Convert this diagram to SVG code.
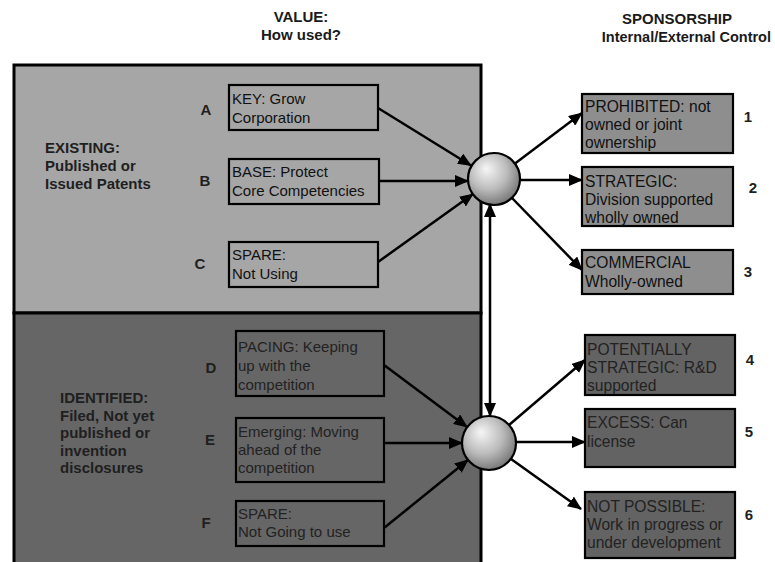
<svg xmlns="http://www.w3.org/2000/svg" width="775" height="562" viewBox="0 0 775 562">
  <style>
    text { font-family: "Liberation Sans", Arial, sans-serif; }
    .hdr { font-size: 15px; font-weight: bold; fill: #1a1a1a; text-anchor: middle; }
    .hdr-end { font-size: 14.5px; font-weight: bold; fill: #1a1a1a; text-anchor: end; }
    .cat { font-size: 15px; font-weight: bold; fill: #1f1f1f; }
    .lbl { font-size: 15px; font-weight: bold; fill: #1f1f1f; text-anchor: middle; }
    .btxt { font-size: 15px; fill: #111; }
    .btxt-dark { font-size: 15px; fill: #222; }
    .rtxt { font-size: 15.6px; fill: #111; }
    .rtxt-dark { font-size: 15.6px; fill: #222; }
    .panel-top { fill: #a6a6a6; stroke: #000; stroke-width: 3; }
    .panel-bot { fill: #666666; stroke: #000; stroke-width: 3; }
    .box-top { fill: #a6a6a6; stroke: #000; stroke-width: 2.2; }
    .box-bot { fill: #666666; stroke: #000; stroke-width: 2.2; }
    .rbox-top { fill: #8e8e8e; stroke: #000; stroke-width: 2.2; }
    .rbox-bot { fill: #636363; stroke: #000; stroke-width: 2.2; }
    .hub { fill: url(#hubShade); stroke: #000; stroke-width: 2.2; }
    .conn { stroke: #000; stroke-width: 2.5; fill: none; marker-end: url(#head); }
  </style>
  <defs>
    <radialGradient id="hubShade" cx="0.42" cy="0.38" r="0.65" fx="0.35" fy="0.3">
      <stop offset="0" stop-color="#f6f6f6"/>
      <stop offset="0.55" stop-color="#bcbcbc"/>
      <stop offset="1" stop-color="#747474"/>
    </radialGradient>
    <marker id="head" viewBox="0 0 14 12" refX="13" refY="6" markerWidth="14" markerHeight="12" markerUnits="userSpaceOnUse" orient="auto-start-reverse">
      <path d="M0,0 L14,6 L0,12 z" fill="#000"/>
    </marker>
  </defs>

  <rect width="775" height="562" fill="#fff"/>

  <!-- column headings -->
  <g id="heading-value">
    <text class="hdr" x="301" y="22">VALUE:</text>
    <text class="hdr" x="301" y="40">How used?</text>
  </g>
  <g id="heading-sponsorship">
    <text class="hdr" x="677" y="24">SPONSORSHIP</text>
    <text class="hdr-end" x="771" y="42">Internal/External Control</text>
  </g>

  <!-- category panels -->
  <g id="panel-existing">
    <rect class="panel-top" x="14" y="65" width="467" height="248"/>
    <text class="cat" x="45" y="153">EXISTING:</text>
    <text class="cat" x="45" y="171">Published or</text>
    <text class="cat" x="45" y="189">Issued Patents</text>
  </g>
  <g id="panel-identified">
    <rect class="panel-bot" x="14" y="313" width="467" height="262"/>
    <text class="cat" x="60" y="403">IDENTIFIED:</text>
    <text class="cat" x="60" y="420.5">Filed, Not yet</text>
    <text class="cat" x="60" y="438">published or</text>
    <text class="cat" x="60" y="455.5">invention</text>
    <text class="cat" x="60" y="473">disclosures</text>
  </g>

  <!-- value nodes -->
  <g id="node-a">
    <text class="lbl" x="206" y="115">A</text>
    <rect class="box-top" x="229" y="85" width="149" height="45"/>
    <text class="btxt" x="232" y="104">KEY: Grow</text>
    <text class="btxt" x="232" y="123">Corporation</text>
  </g>
  <g id="node-b">
    <text class="lbl" x="205" y="186">B</text>
    <rect class="box-top" x="229" y="159" width="150" height="45"/>
    <text class="btxt" x="232" y="177">BASE: Protect</text>
    <text class="btxt" x="232" y="196">Core Competencies</text>
  </g>
  <g id="node-c">
    <text class="lbl" x="200" y="269">C</text>
    <rect class="box-top" x="229" y="242" width="149" height="45"/>
    <text class="btxt" x="232" y="260">SPARE:</text>
    <text class="btxt" x="232" y="279">Not Using</text>
  </g>
  <g id="node-d">
    <text class="lbl" x="211" y="373">D</text>
    <rect class="box-bot" x="236" y="331" width="148" height="65"/>
    <text class="btxt-dark" x="238" y="352">PACING: Keeping</text>
    <text class="btxt-dark" x="238" y="371">up with the</text>
    <text class="btxt-dark" x="238" y="390">competition</text>
  </g>
  <g id="node-e">
    <text class="lbl" x="210" y="445">E</text>
    <rect class="box-bot" x="236" y="418" width="148" height="64"/>
    <text class="btxt-dark" x="238" y="437">Emerging: Moving</text>
    <text class="btxt-dark" x="238" y="455">ahead of the</text>
    <text class="btxt-dark" x="238" y="473">competition</text>
  </g>
  <g id="node-f">
    <text class="lbl" x="206" y="528">F</text>
    <rect class="box-bot" x="236" y="501" width="148" height="45"/>
    <text class="btxt-dark" x="238" y="519">SPARE:</text>
    <text class="btxt-dark" x="238" y="537">Not Going to use</text>
  </g>

  <!-- sponsorship nodes -->
  <g id="node-1">
    <rect class="rbox-top" x="582" y="94" width="151" height="59"/>
    <text class="rtxt" x="585" y="112">PROHIBITED: not</text>
    <text class="rtxt" x="585" y="130">owned or joint</text>
    <text class="rtxt" x="585" y="148">ownership</text>
    <text class="lbl" x="748" y="122">1</text>
  </g>
  <g id="node-2">
    <rect class="rbox-top" x="582" y="167" width="151" height="59"/>
    <text class="rtxt" x="585" y="187">STRATEGIC:</text>
    <text class="rtxt" x="585" y="205">Division supported</text>
    <text class="rtxt" x="585" y="223">wholly owned</text>
    <text class="lbl" x="753" y="193">2</text>
  </g>
  <g id="node-3">
    <rect class="rbox-top" x="582" y="250" width="151" height="44"/>
    <text class="rtxt" x="585" y="268">COMMERCIAL</text>
    <text class="rtxt" x="585" y="287">Wholly-owned</text>
    <text class="lbl" x="748" y="277">3</text>
  </g>
  <g id="node-4">
    <rect class="rbox-bot" x="585" y="335" width="150" height="60"/>
    <text class="rtxt-dark" x="587" y="355">POTENTIALLY</text>
    <text class="rtxt-dark" x="587" y="373">STRATEGIC: R&amp;D</text>
    <text class="rtxt-dark" x="587" y="391">supported</text>
    <text class="lbl" x="750" y="365">4</text>
  </g>
  <g id="node-5">
    <rect class="rbox-bot" x="585" y="409" width="150" height="58"/>
    <text class="rtxt-dark" x="587" y="428">EXCESS: Can</text>
    <text class="rtxt-dark" x="587" y="447">license</text>
    <text class="lbl" x="749" y="437">5</text>
  </g>
  <g id="node-6">
    <rect class="rbox-bot" x="585" y="492" width="150" height="66"/>
    <text class="rtxt-dark" x="587" y="512">NOT POSSIBLE:</text>
    <text class="rtxt-dark" x="587" y="530">Work in progress or</text>
    <text class="rtxt-dark" x="587" y="548">under development</text>
    <text class="lbl" x="749" y="520">6</text>
  </g>

  <!-- connectors -->
  <g id="connectors">
    <line class="conn" x1="378" y1="108" x2="471" y2="165.5"/>
    <line class="conn" x1="379" y1="181" x2="468" y2="181"/>
    <line class="conn" x1="378" y1="262" x2="473" y2="194"/>
    <line class="conn" x1="515" y1="163.5" x2="582" y2="113"/>
    <line class="conn" x1="520" y1="180" x2="582" y2="180"/>
    <line class="conn" x1="512" y1="198" x2="582" y2="270"/>
    <line class="conn" x1="384" y1="365" x2="467" y2="427"/>
    <line class="conn" x1="384" y1="443" x2="462" y2="443"/>
    <line class="conn" x1="384" y1="528" x2="468" y2="460"/>
    <line class="conn" x1="509" y1="425" x2="585" y2="360"/>
    <line class="conn" x1="516" y1="442" x2="585" y2="442"/>
    <line class="conn" x1="511" y1="459" x2="581" y2="509"/>
    <line class="conn" x1="490" y1="204" x2="490" y2="416" marker-start="url(#head)"/>
  </g>

  <!-- hubs -->
  <g id="hub-existing">
    <circle class="hub" cx="494" cy="179" r="26"/>
  </g>
  <g id="hub-identified">
    <circle class="hub" cx="489" cy="443" r="27"/>
  </g>
</svg>
